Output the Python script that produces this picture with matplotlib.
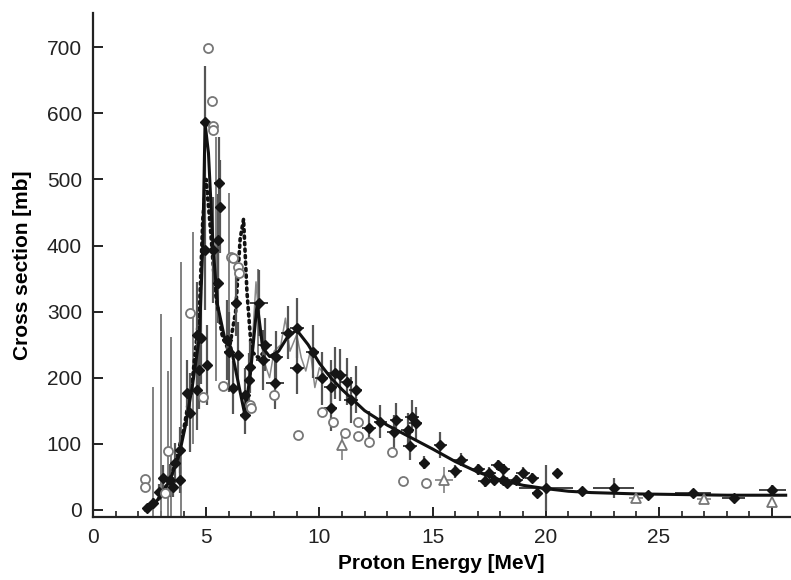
import numpy as np
import matplotlib.pyplot as plt
from matplotlib.ticker import MultipleLocator

plt.rcParams['font.family'] = ['Liberation Sans', 'DejaVu Sans']

# evaluated excitation function (solid)
fit_e = [2.3, 2.7, 3.0, 3.4, 3.8, 4.1, 4.4, 4.7, 4.85, 4.95, 5.1, 5.3, 5.5, 5.8,
         6.1, 6.4, 6.7, 6.95, 7.25, 7.5, 7.8, 8.2, 8.6, 9.0, 9.5, 10.0, 10.5,
         11.0, 12.0, 13.0, 14.0, 15.0, 16.0, 17.0, 18.0, 19.0, 20.0, 21.0, 22.0,
         24.0, 26.0, 28.0, 30.6]
fit_s = [0, 8, 22, 45, 82, 130, 190, 262, 400, 585, 540, 400, 310, 262,
         245, 195, 145, 205, 312, 245, 232, 240, 262, 272, 250, 222, 200,
         182, 150, 128, 110, 92, 73, 57, 45, 37, 32, 28, 26,
         24, 23, 22, 22]

# second calculation (dotted)
dot_e = [2.5, 3.0, 3.5, 4.0, 4.4, 4.7, 4.85, 5.0, 5.2, 5.4, 5.7, 6.0, 6.3,
         6.5, 6.65, 6.8, 7.0, 7.3, 7.6]
dot_s = [2, 20, 55, 120, 200, 300, 440, 500, 420, 330, 265, 240, 300,
         410, 440, 330, 240, 230, 240]

# third calculation (thin grey, resonance structure)
thin_e = [6.8, 7.0, 7.2, 7.4, 7.6, 7.8, 8.0, 8.3, 8.5, 8.7, 9.0, 9.2, 9.4,
          9.6, 9.8, 10.0, 10.3]
thin_s = [160, 230, 345, 260, 220, 200, 240, 250, 290, 240, 265, 230, 210,
          240, 185, 215, 200]

# measured data set 1 (filled diamonds)
dia_e = [2.4, 2.65, 2.9, 3.1, 3.4, 3.55, 3.6, 3.85, 3.85, 4.15, 4.3, 4.6, 4.6,
         4.75, 4.7, 5.05, 4.95, 4.95, 5.3, 5.5, 5.55, 5.6, 5.5, 5.9, 6.0, 6.3,
         6.2, 6.4, 6.7, 6.7, 6.9, 6.95, 7.35, 7.5, 7.6, 8.05, 8.1, 8.6, 9.0,
         9.0, 9.7, 10.1, 10.5, 10.7, 10.9, 11.2, 11.6, 11.4, 10.5, 12.2, 12.7,
         13.3, 13.4, 13.9, 14.1, 14.25, 14.0, 14.6, 15.35, 16.0, 16.25, 17.0,
         17.3, 17.5, 17.7, 17.9, 18.1, 18.1, 18.3, 18.7, 19.0, 19.4, 19.6,
         20.0, 20.5, 21.6, 23.0, 24.5, 26.5, 28.3, 30.0]
dia_s = [3, 10, 27, 48, 45, 35, 71, 45, 91, 177, 147, 181, 265,
         260, 212, 219, 393, 587, 393, 408, 495, 459, 343, 257, 239, 313,
         185, 234, 174, 144, 197, 216, 313, 227, 250, 192, 231, 268, 275,
         215, 239, 199, 186, 207, 204, 194, 182, 166, 154, 124, 133,
         118, 136, 121, 141, 131, 96, 71, 98, 58, 76, 61,
         43, 56, 45, 68, 61, 45, 41, 45, 56, 48, 26,
         33, 56, 28, 33, 23, 26, 18, 30]
dia_ds = [5, 8, 12, 20, 25, 15, 30, 20, 35, 50, 60, 60, 80,
          70, 60, 60, 90, 85, 80, 70, 70, 70, 60, 60, 60, 50,
          40, 50, 40, 30, 40, 40, 50, 45, 40, 40, 40, 40, 45,
          40, 40, 40, 40, 40, 40, 35, 35, 35, 35, 25, 25,
          25, 25, 25, 25, 25, 20, 10, 20, 10, 10, 8,
          8, 8, 8, 8, 8, 8, 8, 8, 8, 8, 5,
          35, 0, 5, 15, 5, 5, 5, 8]
dia_de = [0.1, 0.1, 0.1, 0.15, 0.15, 0.1, 0.15, 0.15, 0.15, 0.15, 0.15, 0.15, 0.15,
          0.15, 0.15, 0.15, 0.15, 0.2, 0.2, 0.15, 0.2, 0.15, 0.15, 0.2, 0.2, 0.2,
          0.2, 0.2, 0.2, 0.2, 0.2, 0.2, 0.4, 0.3, 0.3, 0.4, 0.3, 0.3, 0.3,
          0.3, 0.3, 0.3, 0.3, 0.3, 0.3, 0.3, 0.3, 0.3, 0.3, 0.3, 0.3,
          0.3, 0.3, 0.3, 0.3, 0.3, 0.3, 0.2, 0.3, 0.3, 0.3, 0.3,
          0.3, 0.3, 0.3, 0.3, 0.3, 0.3, 0.3, 0.3, 0.3, 0.3, 0.2,
          1.2, 0.0, 0.2, 0.9, 0.2, 0.8, 0.5, 0.6]

# measured data set 2 (open circles)
circ_e = [2.3, 2.3, 3.2, 3.3, 4.3, 4.85, 5.1, 5.25, 5.3, 5.3, 5.75, 6.1, 6.2,
          6.4, 6.45, 6.95, 7.0, 8.0, 9.05, 10.1, 10.6, 11.15, 11.7, 11.7,
          12.2, 13.2, 13.7, 14.7]
circ_s = [47, 35, 26, 89, 298, 171, 699, 619, 581, 575, 188, 383, 381,
          368, 358, 159, 154, 174, 113, 148, 133, 116, 133, 111,
          103, 88, 43, 41]

# measured data set 3 (open triangles)
tri_e = [11.0, 15.5, 24.0, 27.0, 30.0]
tri_s = [98, 45, 18, 17, 12]
tri_ds = [22, 20, 4, 4, 5]
tri_de = [0.0, 0.4, 0.3, 0.3, 0.0]

# measured data set 4 (large uncertainties, low energy)
old_e = [2.65, 3.0, 3.3, 3.45, 3.9, 4.4, 5.45, 6.0, 7.3]
old_s = [60, 120, 90, 110, 180, 260, 380, 330, 300]
old_ds = [126, 177, 120, 152, 195, 161, 185, 150, 65]

fig = plt.figure(figsize=(7.91, 5.80), dpi=100)
ax = fig.add_axes([0.1176, 0.1086, 0.8814, 0.869])

ax.errorbar(old_e, old_s, yerr=old_ds, fmt='none', ecolor='#777777', elinewidth=1.3)
ax.plot(thin_e, thin_s, color='#888888', lw=1.1)
ax.plot(dot_e, dot_s, color='#111111', lw=2.6, linestyle=(0, (0.6, 1.2)),
        dash_capstyle='round')

ax.errorbar(dia_e, dia_s, yerr=dia_ds, fmt='none', ecolor='#555555', elinewidth=1.6)
ax.errorbar(dia_e, dia_s, xerr=dia_de, fmt='none', ecolor='#222222', elinewidth=1.2)
ax.errorbar(tri_e, tri_s, yerr=tri_ds, xerr=tri_de, fmt='none', ecolor='#777777',
            elinewidth=1.1)

ax.plot(fit_e, fit_s, color='#111111', lw=2.2)

ax.plot(dia_e, dia_s, 'D', ms=5.5, color='#151515', mec='#151515')
ax.plot(circ_e, circ_s, 'o', ms=6.5, mfc='white', mec='#777777', mew=1.3,
        linestyle='none')
ax.plot(tri_e, tri_s, '^', ms=6.5, mfc='white', mec='#777777', mew=1.3,
        linestyle='none')

ax.set_xlim(0, 30.8)
ax.set_ylim(-11, 752)
ax.set_xticks([0, 5, 10, 15, 20, 25, 30])
ax.set_xticklabels(['0', '5', '10', '15', '20', '25', ''])
ax.xaxis.set_minor_locator(MultipleLocator(1))
ax.set_yticks(np.arange(0, 701, 100))

for side in ('top', 'right'):
    ax.spines[side].set_visible(False)
for side in ('left', 'bottom'):
    ax.spines[side].set_linewidth(1.6)
    ax.spines[side].set_color('#222222')

ax.tick_params(which='major', direction='in', length=7, width=1.4, labelsize=15,
               pad=8, colors='#222222')
ax.tick_params(which='minor', direction='in', length=4, width=1.2, colors='#222222')
ax.tick_params(axis='y', which='minor', length=0)

ax.set_xlabel('Proton Energy [MeV]', fontsize=15, fontweight='bold', labelpad=5)
ax.set_ylabel('Cross section [mb]', fontsize=15, fontweight='bold', labelpad=11)

fig.savefig('out.png', dpi=100)
